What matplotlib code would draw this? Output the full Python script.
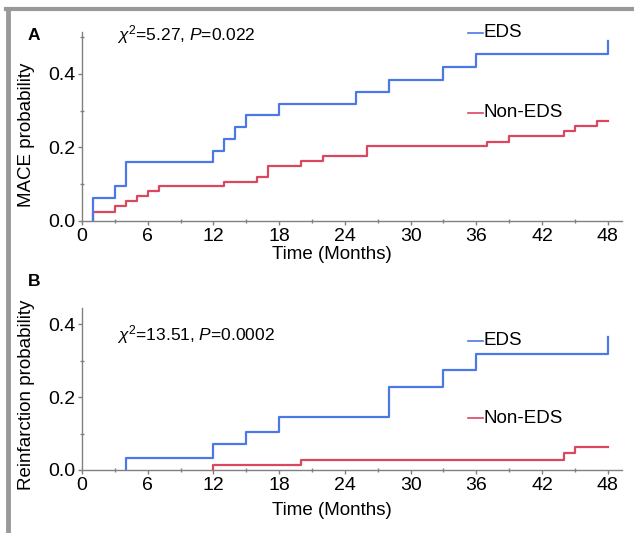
import numpy as np
import matplotlib
matplotlib.use("Agg")
import matplotlib.pyplot as plt
from matplotlib.ticker import MultipleLocator
from matplotlib.lines import Line2D

plt.rcParams['font.family'] = ['Liberation Sans', 'DejaVu Sans']
plt.rcParams['mathtext.fontset'] = 'custom'
plt.rcParams['mathtext.rm'] = 'Liberation Sans'
plt.rcParams['mathtext.it'] = 'Liberation Sans:italic'

# Panel A: MACE
a_eds_t = [1, 3, 4, 12, 13, 14, 15, 18, 25, 28, 33, 36, 48]
a_eds_v = [0.063, 0.096, 0.160, 0.191, 0.222, 0.256, 0.287, 0.318, 0.350, 0.383, 0.419, 0.454, 0.490]
a_non_t = [1, 3, 4, 5, 6, 7, 13, 16, 17, 20, 22, 26, 37, 39, 44, 45, 47, 48]
a_non_v = [0.025, 0.040, 0.054, 0.068, 0.081, 0.095, 0.107, 0.121, 0.150, 0.162, 0.177, 0.204,
           0.216, 0.230, 0.244, 0.259, 0.273, 0.273]

# Panel B: reinfarction
b_eds_t = [4, 12, 15, 18, 28, 33, 36, 48]
b_eds_v = [0.032, 0.071, 0.105, 0.146, 0.227, 0.275, 0.319, 0.364]
b_non_t = [12, 20, 44, 45, 48]
b_non_v = [0.013, 0.027, 0.047, 0.064, 0.064]

BLUE = '#4a78e6'
RED = '#d9485f'
GREY = '#808080'

fig = plt.figure(figsize=(6.34, 5.33), dpi=100)
W, H = 634, 533


def add_ax(left, right, top, bottom):
    return fig.add_axes([left / W, 1 - bottom / H, (right - left) / W, (bottom - top) / H])


def km(ax, t, v, color):
    x = np.r_[t[0], t]
    y = np.r_[0, v]
    ax.step(x, y, where='post', color=color, lw=1.6)


def style(ax, ymax, ylabel, ylab_y):
    ax.set_xlim(0, 49.3)
    ax.set_ylim(0, ymax)
    for s in ['top', 'right']:
        ax.spines[s].set_visible(False)
    for s in ['left', 'bottom']:
        ax.spines[s].set_color(GREY)
        ax.spines[s].set_linewidth(1.0)
    ax.xaxis.set_major_locator(MultipleLocator(6))
    ax.xaxis.set_minor_locator(MultipleLocator(3))
    ax.yaxis.set_major_locator(MultipleLocator(0.2))
    ax.yaxis.set_minor_locator(MultipleLocator(0.1))
    ax.yaxis.set_major_formatter(matplotlib.ticker.FormatStrFormatter('%.1f'))
    ax.tick_params(which='major', direction='out', length=3, width=1, color=GREY,
                   labelsize=14, pad=2)
    ax.tick_params(axis='x', which='major', pad=2)
    ax.tick_params(which='minor', direction='inout', length=3, width=1, color=GREY)
    ax.set_xlabel('Time (Months)', fontsize=13.5)
    ax.set_ylabel(ylabel, fontsize=13.5)
    ax.yaxis.set_label_coords(-0.087, ylab_y)


def legend_item(ax, y, color, text):
    ax.add_line(Line2D([35.2, 36.6], [y, y], color=color, lw=1.2, clip_on=False))
    ax.text(36.7, y, text, fontsize=13.5, va='center', ha='left')


# Panel A
axA = add_ax(82, 622, 32, 221)
km(axA, a_non_t, a_non_v, RED)
km(axA, a_eds_t, a_eds_v, BLUE)
style(axA, 0.514, 'MACE probability', 0.455)
axA.xaxis.set_label_coords(0.462, -0.133)
legend_item(axA, 0.512, BLUE, 'EDS')
legend_item(axA, 0.294, RED, 'Non-EDS')
axA.text(3.2, 0.508, r'$\chi^2$=5.27, $P$=0.022', fontsize=12.5, va='center', ha='left')
fig.text(28 / W, 1 - 35 / H, 'A', fontsize=12.5, fontweight='bold', va='center')

# Panel B
axB = add_ax(82, 622, 308, 470)
km(axB, b_non_t, b_non_v, RED)
km(axB, b_eds_t, b_eds_v, BLUE)
style(axB, 0.445, 'Reinfarction probability', 0.463)
axB.xaxis.set_label_coords(0.462, -0.2)
legend_item(axB, 0.355, BLUE, 'EDS')
legend_item(axB, 0.142, RED, 'Non-EDS')
axB.text(3.2, 0.371, r'$\chi^2$=13.51, $P$=0.0002', fontsize=12.5, va='center', ha='left')
fig.text(28 / W, 1 - 281 / H, 'B', fontsize=12.5, fontweight='bold', va='center')

# grey frame on top and left
fig.add_artist(Line2D([8 / W, 8 / W], [0, 1 - 8.5 / H], color='#999999', lw=3.5))
fig.add_artist(Line2D([6 / W, 1], [1 - 8.5 / H, 1 - 8.5 / H], color='#999999', lw=3.0))

fig.savefig('out.png', dpi=100)
